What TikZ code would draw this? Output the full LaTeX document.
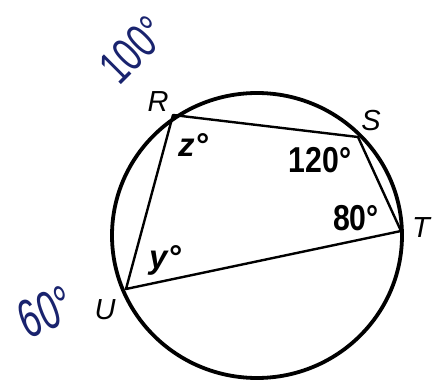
\documentclass[tikz,border=0pt]{standalone}
\usepackage{fontspec}
\setmainfont{Liberation Sans}
\newfontfamily\condbold[FakeStretch=0.84]{Liberation Sans}
\definecolor{ink}{RGB}{25,35,110}
\begin{document}
\begin{tikzpicture}[x=1pt,y=-1pt,
  circ/.style={line width=3.8pt},
  edge/.style={line width=2.4pt, line join=round},
  vlab/.style={font=\fontsize{29}{29}\selectfont\itshape, inner sep=0pt},
  alab/.style={font=\fontsize{33}{33}\selectfont\bfseries\itshape, inner sep=0pt},
  nlab/.style={font=\fontsize{36}{36}\selectfont\condbold\bfseries, inner sep=0pt},
  hand/.style={text=ink, inner sep=0pt}]
\useasboundingbox (0,0) rectangle (432,385);
\fill[white] (0,0) rectangle (432,385);
\coordinate (O) at (257,235.5);
\draw[circ] (O) ellipse [x radius=145pt, y radius=142.5pt];
\coordinate (R) at (173,115);
\coordinate (S) at (358,137);
\coordinate (T) at (401,231);
\coordinate (U) at (126,289);
\draw[edge] (R) -- (S) -- (T) -- (U) -- cycle;
\node[vlab] (lR) at (158,102) {R};
\node[vlab] (lS) at (371,121) {S};
\node[vlab] (lT) at (421,228) {T};
\node[vlab] (lU) at (105,310) {U};
\node[alab] (az) at (193,145) {z°};
\node[alab] (ay) at (165,260) {y°};
\node[nlab] (a120) at (320,160) {120°};
\node[nlab] (a80) at (356,218) {80°};
\node[hand, rotate=45] (h100) at (133,50) {\fontsize{48}{48}\selectfont\scalebox{0.72}[1]{100°}};
\node[hand, rotate=22] (h60) at (46,312) {\fontsize{54}{54}\selectfont\scalebox{0.66}[1]{60°}};
\end{tikzpicture}
\end{document}
